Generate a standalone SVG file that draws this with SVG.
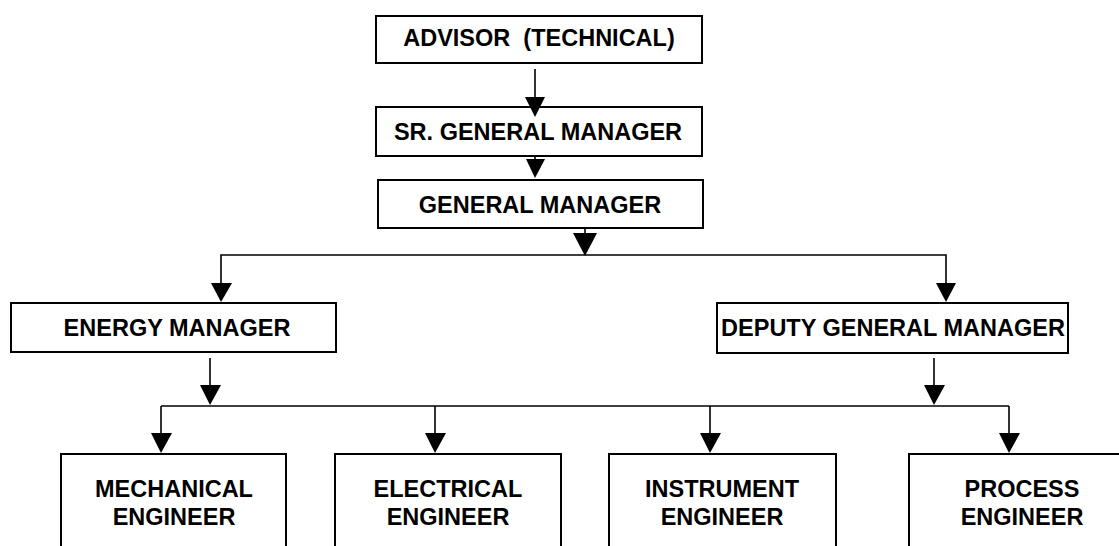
<svg xmlns="http://www.w3.org/2000/svg" width="1119" height="546" viewBox="0 0 1119 546">
<style>
.box{fill:#fff;stroke:#000;stroke-width:2}
.t{font-family:"Liberation Sans",Arial,sans-serif;font-weight:bold;font-size:23.5px;fill:#000;text-anchor:middle}
.ln{stroke:#000;stroke-width:1.6;fill:none}
.ah{fill:#000}
</style>
<rect width="1119" height="546" fill="#fff"/>
<g id="advisor">
<rect class="box" x="376" y="16" width="326" height="47"/>
<text class="t" x="539" y="46" xml:space="preserve">ADVISOR  (TECHNICAL)</text>
</g>
<g id="sr-gm">
<rect class="box" x="376" y="107" width="326" height="49"/>
<text class="t" x="538" y="140">SR. GENERAL MANAGER</text>
</g>
<g id="gm">
<rect class="box" x="378" y="180" width="325" height="48"/>
<text class="t" x="540" y="213">GENERAL MANAGER</text>
</g>
<g id="energy">
<rect class="box" x="11" y="303" width="325" height="49"/>
<text class="t" x="177" y="336">ENERGY MANAGER</text>
</g>
<g id="dgm">
<rect class="box" x="717" y="303" width="351" height="50"/>
<text class="t" x="893" y="336">DEPUTY GENERAL MANAGER</text>
</g>
<g id="mech">
<rect class="box" x="61" y="454" width="225" height="110"/>
<text class="t" x="174" y="497">MECHANICAL</text>
<text class="t" x="174" y="525">ENGINEER</text>
</g>
<g id="elec">
<rect class="box" x="335" y="454" width="226" height="110"/>
<text class="t" x="448" y="497">ELECTRICAL</text>
<text class="t" x="448" y="525">ENGINEER</text>
</g>
<g id="instr">
<rect class="box" x="609" y="454" width="227" height="110"/>
<text class="t" x="722" y="497">INSTRUMENT</text>
<text class="t" x="722" y="525">ENGINEER</text>
</g>
<g id="process">
<rect class="box" x="909" y="454" width="230" height="110"/>
<text class="t" x="1022" y="497">PROCESS</text>
<text class="t" x="1022" y="525">ENGINEER</text>
</g>
<g id="connectors">
<line class="ln" x1="535" y1="69" x2="535" y2="100"/>
<polygon class="ah" points="525,97 545,97 535,117"/>
<line class="ln" x1="535" y1="156" x2="535" y2="162"/>
<polygon class="ah" points="526,159 545,159 535,178"/>
<line class="ln" x1="585" y1="228" x2="585" y2="236"/>
<polygon class="ah" points="573,233 597,233 585,256"/>
<polyline class="ln" points="221,286 221,255 946,255 946,286"/>
<polygon class="ah" points="211,283 232,283 221,302"/>
<polygon class="ah" points="936,283 956,283 946,302"/>
<line class="ln" x1="210" y1="358" x2="210" y2="388"/>
<polygon class="ah" points="200,385 221,385 210,405"/>
<line class="ln" x1="934" y1="358" x2="934" y2="388"/>
<polygon class="ah" points="924,385 945,385 934,405"/>
<line class="ln" x1="161" y1="406" x2="1009" y2="406"/>
<line class="ln" x1="161" y1="406" x2="161" y2="436"/>
<polygon class="ah" points="151,433 172,433 161,453"/>
<line class="ln" x1="435" y1="406" x2="435" y2="436"/>
<polygon class="ah" points="425,433 446,433 435,453"/>
<line class="ln" x1="710" y1="406" x2="710" y2="436"/>
<polygon class="ah" points="700,433 721,433 710,453"/>
<line class="ln" x1="1009" y1="406" x2="1009" y2="436"/>
<polygon class="ah" points="999,433 1020,433 1009,453"/>
</g>
</svg>
